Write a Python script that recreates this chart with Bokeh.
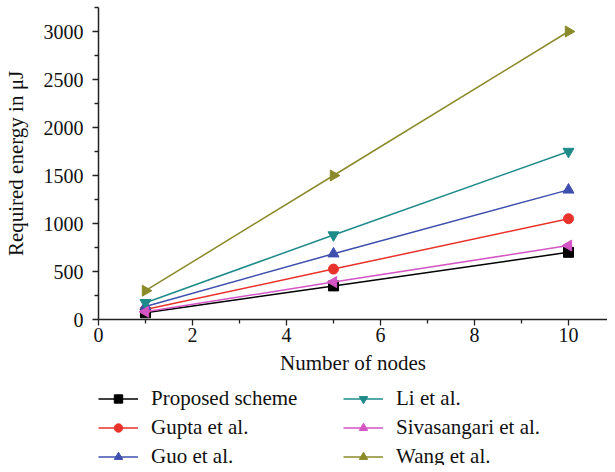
import math
from bokeh.plotting import figure
from bokeh.layouts import column
from bokeh.models import Range1d, Legend, LegendItem, FixedTicker
from bokeh.embed import file_html
from bokeh.resources import INLINE

nodes = [1, 5, 10]
proposed = [70, 350, 700]
gupta = [105, 525, 1050]
guo = [135, 685, 1350]
li = [175, 880, 1750]
sivasangari = [80, 390, 770]
wang = [300, 1500, 3000]

x_ticks = [0, 2, 4, 6, 8, 10]
x_minor = [1, 3, 5, 7, 9]
y_ticks = [0, 500, 1000, 1500, 2000, 2500, 3000]
y_minor = [250, 750, 1250, 1750, 2250, 2750, 3250]

FONT = "Liberation Serif"

series = [
    ("Proposed scheme", proposed, "#000000", "square", 0.0, 10),
    ("Gupta et al.", gupta, "#e8322a", "circle", 0.0, 10),
    ("Guo et al.", guo, "#3f4fae", "triangle", 0.0, 11),
    ("Li et al.", li, "#1e8a8a", "inverted_triangle", 0.0, 11),
    ("Sivasangari et al.", sivasangari, "#d455c4", "triangle", math.pi / 2, 11),
    ("Wang et al.", wang, "#8a8a2a", "triangle", -math.pi / 2, 11),
]

p = figure(frame_width=509, frame_height=312, output_backend="svg", toolbar_location=None,
           x_range=Range1d(0, 10.83), y_range=Range1d(0, 3250),
           min_border_left=0, min_border_right=0, min_border_top=7, min_border_bottom=0)
p.outline_line_color = None
p.grid.visible = False

for name, vals, col, mk, ang, sz in series:
    p.line(nodes, vals, line_color=col, line_width=1.5)
    p.scatter(nodes, vals, marker=mk, angle=ang, size=sz, fill_color=col, line_color=col)

for ax in (p.xaxis[0], p.yaxis[0]):
    ax.axis_line_width = 1.5
    ax.axis_line_color = "#222222"
    ax.major_tick_line_color = "#222222"
    ax.minor_tick_line_color = "#222222"
    ax.major_tick_line_width = 1.3
    ax.minor_tick_line_width = 1.3
    ax.major_tick_in = 0
    ax.major_tick_out = 6
    ax.minor_tick_in = 0
    ax.minor_tick_out = 4
    ax.major_label_text_font = FONT
    ax.major_label_text_font_size = "20px"
    ax.major_label_text_color = "#111111"
    ax.axis_label_text_font = FONT
    ax.axis_label_text_font_size = "21px"
    ax.axis_label_text_font_style = "normal"
    ax.axis_label_text_color = "#111111"

p.xaxis[0].ticker = FixedTicker(ticks=x_ticks, minor_ticks=x_minor)
p.yaxis[0].ticker = FixedTicker(ticks=y_ticks, minor_ticks=y_minor)
p.xaxis.axis_label = "Number of nodes"
p.yaxis.axis_label = "Required energy in μJ"
p.xaxis.major_label_standoff = 2
p.yaxis.major_label_standoff = 9
p.xaxis.axis_label_standoff = 6
p.yaxis.axis_label_standoff = 13

# legend panel
q = figure(width=599, height=88, output_backend="svg", toolbar_location=None,
           x_range=Range1d(-20, -19), y_range=Range1d(-20, -19),
           min_border_left=97, min_border_right=0, min_border_top=9, min_border_bottom=0)
q.outline_line_color = None
q.grid.visible = False
q.axis.visible = False

items = []
for name, vals, col, mk, ang, sz in series:
    r1 = q.line(nodes, vals, line_color=col, line_width=1.5)
    r2 = q.scatter(nodes, vals, marker=mk, angle=ang, size=8, fill_color=col, line_color=col)
    items.append(LegendItem(label=name, renderers=[r1, r2]))

legend = Legend(items=items, ncols=2)
legend.label_text_font = FONT
legend.label_text_font_size = "21px"
legend.label_text_color = "#111111"
legend.label_height = 21
legend.glyph_width = 40
legend.glyph_height = 21
legend.label_standoff = 13
legend.label_width = 188
legend.spacing = 4
legend.border_line_color = None
legend.background_fill_alpha = 0
legend.padding = 0
legend.margin = 0
legend.location = "top_left"
q.add_layout(legend, "center")

layout = column(p, q, spacing=0)
open("out.html", "w").write(file_html(layout, INLINE))
